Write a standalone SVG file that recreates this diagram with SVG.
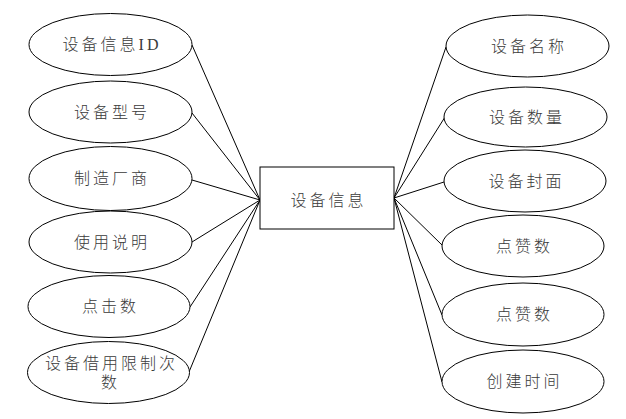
<svg xmlns="http://www.w3.org/2000/svg" width="626" height="419" viewBox="0 0 626 419">
<style>
.n ellipse, .n rect { fill: #fff; stroke: #000; stroke-width: 1; }
.n text { font-family: "Liberation Serif", "Noto Sans CJK SC", serif; font-size: 16px; fill: #3a3a3a; text-anchor: middle; letter-spacing: 3px; font-weight: 300; }
.c line { stroke: #000; stroke-width: 1; }
</style>
<rect width="626" height="419" fill="#fff"/>
<g id="connectors" class="c">
<line x1="192" y1="45" x2="260" y2="200"/>
<line x1="192" y1="113" x2="260" y2="200"/>
<line x1="192" y1="180" x2="260" y2="200"/>
<line x1="192" y1="242" x2="260" y2="200"/>
<line x1="190" y1="307" x2="260" y2="200"/>
<line x1="189" y1="372" x2="260" y2="200"/>
<line x1="394" y1="198" x2="446" y2="47"/>
<line x1="394" y1="198" x2="445" y2="117"/>
<line x1="394" y1="198" x2="444" y2="182"/>
<line x1="394" y1="198" x2="442" y2="245"/>
<line x1="394" y1="198" x2="442" y2="315"/>
<line x1="394" y1="198" x2="442" y2="382"/>
</g>
<g id="center" class="n"><rect x="260" y="167" width="134" height="62"/><text x="328.5" y="205.5">设备信息</text></g>
<g id="l1" class="n"><ellipse cx="110.5" cy="44.5" rx="81.5" ry="31"/><text x="112" y="50">设备信息ID</text></g>
<g id="l2" class="n"><ellipse cx="110.5" cy="112" rx="81.5" ry="31"/><text x="112" y="117.5">设备型号</text></g>
<g id="l3" class="n"><ellipse cx="110.5" cy="178.5" rx="81.5" ry="32"/><text x="112" y="184">制造厂商</text></g>
<g id="l4" class="n"><ellipse cx="110.5" cy="242" rx="81.5" ry="31"/><text x="112" y="247.5">使用说明</text></g>
<g id="l5" class="n"><ellipse cx="109" cy="306.5" rx="81" ry="31"/><text x="110.5" y="312">点击数</text></g>
<g id="l6" class="n"><ellipse cx="108.5" cy="372.5" rx="81" ry="31"/><text><tspan x="111.5" y="368.5">设备借用限制次</tspan><tspan x="110.5" y="387.5">数</tspan></text></g>
<g id="r1" class="n"><ellipse cx="527.5" cy="46" rx="81.5" ry="31"/><text x="529" y="51.5">设备名称</text></g>
<g id="r2" class="n"><ellipse cx="525.5" cy="117" rx="81.5" ry="30"/><text x="527" y="122.5">设备数量</text></g>
<g id="r3" class="n"><ellipse cx="525" cy="181" rx="81" ry="31"/><text x="526.5" y="186.5">设备封面</text></g>
<g id="r4" class="n"><ellipse cx="523" cy="246" rx="81" ry="31"/><text x="524.5" y="251.5">点赞数</text></g>
<g id="r5" class="n"><ellipse cx="523" cy="314.5" rx="81" ry="31.5"/><text x="524.5" y="320">点赞数</text></g>
<g id="r6" class="n"><ellipse cx="523" cy="381.5" rx="81" ry="31.5"/><text x="524.5" y="387">创建时间</text></g>
</svg>
